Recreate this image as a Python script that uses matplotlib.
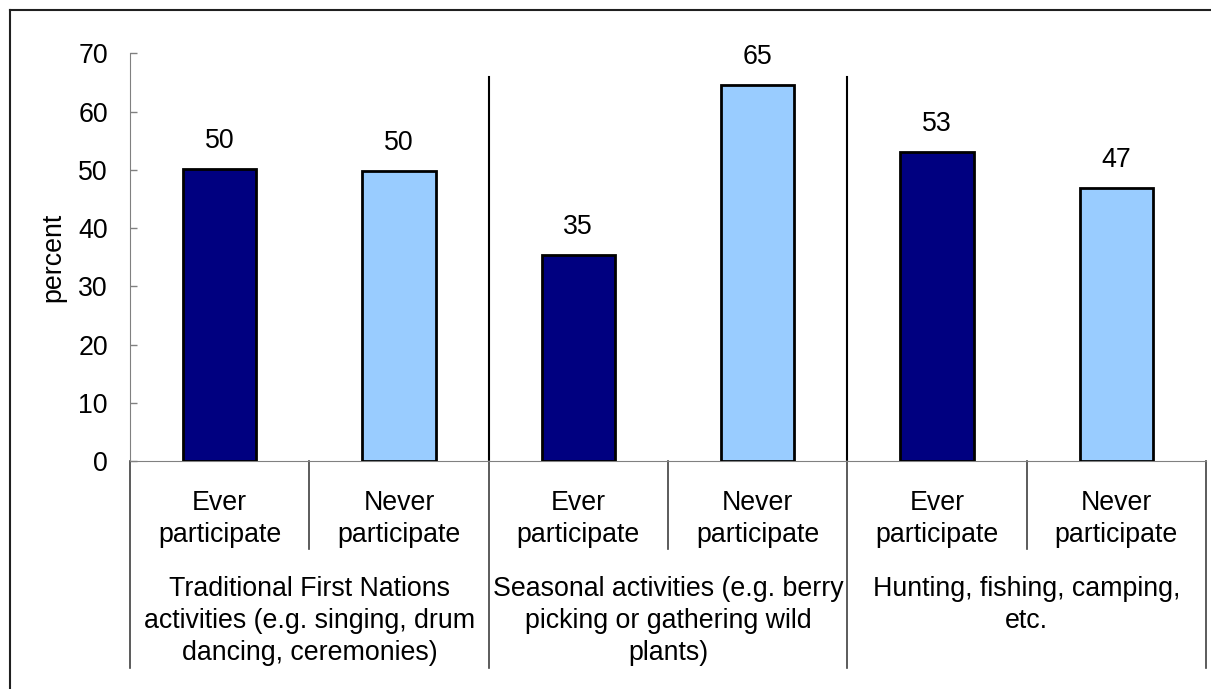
import matplotlib.pyplot as plt
from matplotlib.lines import Line2D

# Survey shares by activity group
groups = [
    "Traditional First Nations\nactivities (e.g. singing, drum\ndancing, ceremonies)",
    "Seasonal activities (e.g. berry\npicking or gathering wild\nplants)",
    "Hunting, fishing, camping,\netc.",
]
categories = ["Ever\nparticipate", "Never\nparticipate"]
ever = [50.2, 35.4, 53.1]
never = [49.8, 64.6, 46.9]
yticks = [0, 10, 20, 30, 40, 50, 60, 70]

plt.rcParams['font.family'] = ['Liberation Sans', 'DejaVu Sans']
FS = 19.3

W, H = 1211, 689
fig = plt.figure(figsize=(W / 100, H / 100), dpi=100)

# plot area in pixels: x 130..1206, y 53..461
px_left, px_right, px_top, px_bottom = 130, 1206, 53.3, 461
ax = fig.add_axes([px_left / W, 1 - px_bottom / H,
                   (px_right - px_left) / W, (px_bottom - px_top) / H])
ax_h = px_bottom - px_top


def yfrac(py):
    # pixel row below the axis -> axes fraction
    return -(py - px_bottom) / ax_h


values = []
colors = []
for e, n in zip(ever, never):
    values += [e, n]
    colors += ["#000080", "#99CCFF"]
xs = [i + 0.5 for i in range(len(values))]

ax.bar(xs, values, width=0.41, color=colors, edgecolor="black", linewidth=2, zorder=3)
for x, v in zip(xs, values):
    ax.annotate(f"{v:.0f}", (x, v), xytext=(0, 10.5), textcoords="offset points",
                ha="center", va="bottom", fontsize=FS)

ax.set_xlim(0, len(values))
ax.set_ylim(0, 70)
ax.set_yticks(yticks)
ax.set_xticks([])
ax.tick_params(axis="y", direction="in", length=5, width=1, colors="#808080",
               labelcolor="black", labelsize=FS, pad=16)
for side in ["top", "right"]:
    ax.spines[side].set_visible(False)
ax.spines["left"].set_color("#808080")
ax.spines["bottom"].set_color("#808080")
ax.set_ylabel("percent", fontsize=FS)
ax.yaxis.set_label_coords(-(px_left - 66) / (px_right - px_left), 0.5)

# group dividers inside the plot
for gx in [2, 4]:
    ax.plot([gx, gx], [0, 66], color="black", linewidth=1.5, zorder=2)

xt = ax.get_xaxis_transform()
# category dividers below the axis
for cx in [1, 3, 5]:
    ax.plot([cx, cx], [0, yfrac(549)], transform=xt, color="#404040",
            linewidth=1.2, clip_on=False)
# group dividers below the axis
for gx in [0, 2, 4, 6]:
    ax.plot([gx, gx], [0, yfrac(668)], transform=xt, color="#404040",
            linewidth=1.2, clip_on=False)

for x, lab in zip(xs, categories * len(groups)):
    ax.text(x, yfrac(490), lab, transform=xt, ha="center", va="top",
            fontsize=FS, linespacing=1.3)
for i, g in enumerate(groups):
    ax.text(2 * i + 1, yfrac(576), g, transform=xt, ha="center", va="top",
            fontsize=FS, linespacing=1.3)

# outer chart frame
fig.add_artist(Line2D([10 / W, 10 / W], [0, 1 - 10 / H], color="#202020", linewidth=1.5))
fig.add_artist(Line2D([10 / W, 1], [1 - 10 / H, 1 - 10 / H], color="#202020", linewidth=1.5))

fig.savefig("out.png", dpi=100)
